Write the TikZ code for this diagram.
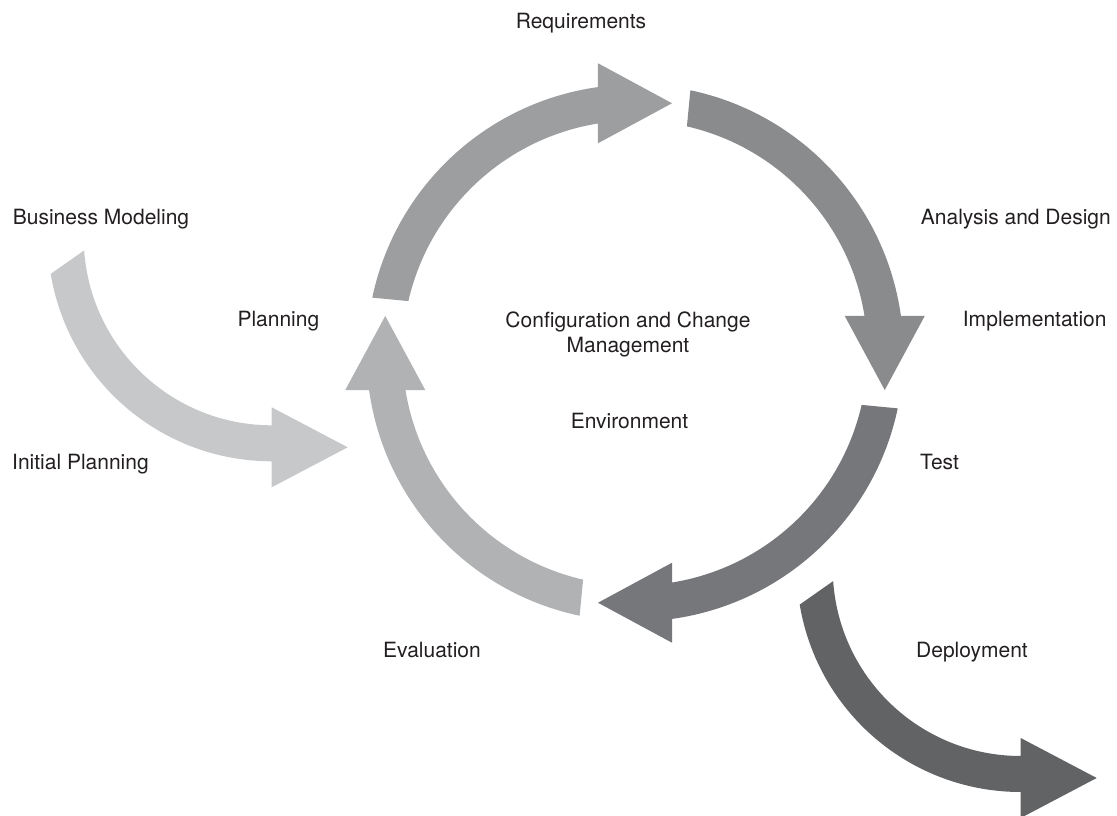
\documentclass[tikz,border=0pt]{standalone}
\usepackage{fontspec}
\setmainfont{TeX Gyre Heros}
\usetikzlibrary{calc}
\definecolor{txt}{RGB}{35,31,32}
\definecolor{cTop}{RGB}{157,158,160}
\definecolor{cRight}{RGB}{138,139,141}
\definecolor{cBottom}{RGB}{118,119,122}
\definecolor{cLeft}{RGB}{177,178,180}
\definecolor{cBM}{RGB}{199,200,202}
\definecolor{cDep}{RGB}{98,99,101}
\begin{document}
\begin{tikzpicture}[x=1pt,y=1pt,
  lbl/.style={font=\fontsize{21}{24}\selectfont, text=txt, inner sep=0pt, anchor=base},
  lblw/.style={lbl, anchor=base west}]
\useasboundingbox (0,0) rectangle (1117,815);
\clip (0,0) rectangle (1117,815);
\coordinate (C) at (635,462);
% ring arrows
\foreach \a/\col in {90/cTop,0/cRight,-90/cBottom,180/cLeft}{
  \fill[\col] ($(C)+({\a+78.1}:268.5)$)
     arc[start angle={\a+78.1}, end angle={\a+7.93}, radius=268.5]
   -- ($(C)+({\a+8.5}:250.5)+(\a:42)$)
   -- ($(C)+({\a-8.5}:250.5)+(\a:2)$)
   -- ($(C)+({\a+8.5}:250.5)+({\a+180}:38)$)
   -- ($(C)+({\a+9.16}:232.5)$)
     arc[start angle={\a+9.16}, end angle={\a+77.1}, radius=232.5]
   -- cycle;
}
% side arrows
\foreach \cx/\cy/\col in {271.7/577.7/cBM, 1020.7/247/cDep}{
  \fill[\col] ($(\cx,\cy)+(189.4:224)$)
     arc[start angle=189.4, end angle=270, radius=224]
   -- (\cx,\cy-250) -- (\cx+76,\cy-210) -- (\cx,\cy-170) -- (\cx,\cy-188)
     arc[start angle=270, end angle=184, radius=188]
   -- cycle;
}
% labels
\node[lbl]  (req)  at (581,786.5) {Requirements};
\node[lblw] (bm)   at (12.7,590.5) {Business Modeling};
\node[lblw] (ad)   at (920.7,590.5) {Analysis and Design};
\node[lblw] (impl) at (962.7,488.5) {Implementation};
\node[lblw] (plan) at (237.3,488.5) {Planning};
\node[lbl]  (ccm1) at (628,487) {Configuration and Change};
\node[lbl]  (ccm2) at (628,462) {Management};
\node[lbl]  (env)  at (629.5,386.5) {Environment};
\node[lblw] (ip)   at (12,345) {Initial Planning};
\node[lblw] (test) at (920,345.5) {Test};
\node[lbl]  (eval) at (432,158) {Evaluation};
\node[lbl]  (dep)  at (972,158) {Deployment};
\end{tikzpicture}
\end{document}
